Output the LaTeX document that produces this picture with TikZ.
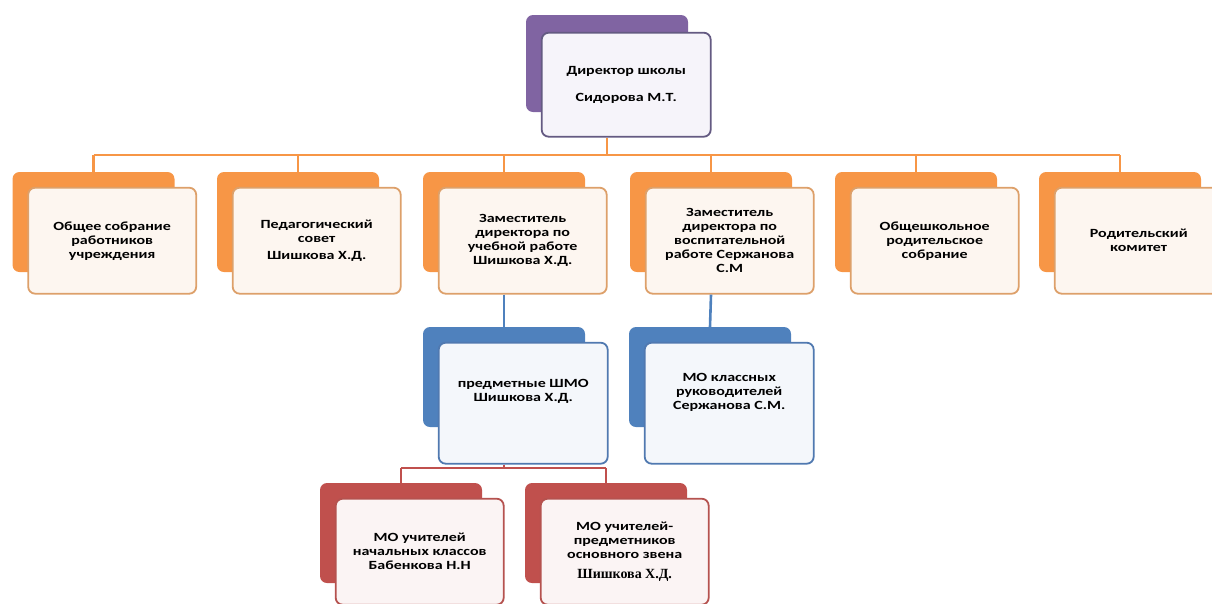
\documentclass[tikz,border=0pt]{standalone}
\usepackage{fontspec}
\setmainfont{Carlito}[FakeStretch=1.28]
\newfontfamily\timesfont{Liberation Serif}
\usetikzlibrary{positioning}

\definecolor{dirback}{HTML}{8064A2}
\definecolor{dirline}{HTML}{645A82}
\definecolor{dirfill}{HTML}{F6F4FA}
\definecolor{orback}{HTML}{F79646}
\definecolor{orline}{HTML}{DDA06A}
\definecolor{orfill}{HTML}{FDF6F0}
\definecolor{blback}{HTML}{4F81BD}
\definecolor{blline}{HTML}{5079B0}
\definecolor{blfill}{HTML}{F4F7FB}
\definecolor{rdback}{HTML}{C0504D}
\definecolor{rdline}{HTML}{B5524F}
\definecolor{rdfill}{HTML}{FBF4F4}

\tikzset{
  backbox/.style={fill=#1, rounded corners=7pt, minimum width=162pt, minimum height=100pt, inner sep=0pt},
  frontbox/.style={draw=#1, line width=1.8pt, rounded corners=7pt, minimum width=168pt, minimum height=106pt,
    align=center, inner sep=2pt, font=\bfseries\fontsize{12.5}{14}\selectfont},
  link/.style={draw=#1, line width=2.6pt},
}

\begin{document}
\begin{tikzpicture}[x=1pt,y=-1pt]
    \useasboundingbox (0,0) rectangle (1212,603);
    \clip (0,0) rectangle (1212,603);

    % director
    \node[backbox=dirback, minimum height=97pt] (db) at (607,63.5) {};
    \node[frontbox=dirline, fill=dirfill, minimum width=169pt, minimum height=104pt,
      below right=17pt and 15pt of db.north west] (df) {Директор школы\\[13pt]Сидорова М.Т.};

    % councils and deputies
    \node[backbox=orback] (b1) at (93.5,222) {};
    \node[backbox=orback] (b2) at (298,222) {};
    \node[backbox=orback] (b3) at (504,222) {};
    \node[backbox=orback] (b4) at (711,222) {};
    \node[backbox=orback] (b5) at (916,222) {};
    \node[backbox=orback] (b6) at (1120,222) {};

    \node[frontbox=orline, fill=orfill, below right=15pt and 15pt of b1.north west] (f1)
      {Общее собрание\\работников\\учреждения};
    \node[frontbox=orline, fill=orfill, below right=15pt and 15pt of b2.north west] (f2)
      {Педагогический\\совет\\[3pt]Шишкова Х.Д.};
    \node[frontbox=orline, fill=orfill, below right=15pt and 15pt of b3.north west] (f3)
      {Заместитель\\директора по\\учебной работе\\Шишкова Х.Д.};
    \node[frontbox=orline, fill=orfill, below right=15pt and 15pt of b4.north west] (f4)
      {Заместитель\\директора по\\воспитательной\\работе Сержанова\\С.М};
    \node[frontbox=orline, fill=orfill, below right=15pt and 15pt of b5.north west] (f5)
      {Общешкольное\\родительское\\собрание};
    \node[frontbox=orline, fill=orfill, below right=15pt and 15pt of b6.north west] (f6)
      {Родительский\\комитет};

    % methodical units
    \node[backbox=blback] (m1) at (504,377) {};
    \node[backbox=blback] (m2) at (710,377) {};
    \node[frontbox=blline, fill=blfill, minimum width=169pt, minimum height=121pt,
      below right=15pt and 15pt of m1.north west] (mf1) {предметные ШМО\\Шишкова Х.Д.\\[12pt]};
    \node[frontbox=blline, fill=blfill, minimum width=169pt, minimum height=121pt,
      below right=15pt and 15pt of m2.north west] (mf2) {МО классных\\руководителей\\Сержанова С.М.\\[10pt]};

    % teacher groups
    \node[backbox=rdback] (r1) at (401,533) {};
    \node[backbox=rdback] (r2) at (606,533) {};
    \node[frontbox=rdline, fill=rdfill, below right=15pt and 15pt of r1.north west] (rf1)
      {МО учителей\\начальных классов\\Бабенкова Н.Н};
    \node[frontbox=rdline, fill=rdfill, below right=15pt and 15pt of r2.north west] (rf2)
      {МО учителей-\\предметников\\основного звена\\[6pt]{\timesfont\fontsize{14}{14}\selectfont Шишкова Х.Д.}};

    % links
    \coordinate (bus) at (607,155);
    \draw[link=orback] (df.south -| db) -- (bus);
    \draw[link=orback] (bus -| b1) -- (bus -| b6);
    \foreach \i in {1,...,6}
        \draw[link=orback] (bus -| b\i) -- (b\i.north);

    \draw[link=blback] (f3.south -| b3) -- (m1.north);
    \draw[link=blback] (f4.south -| b4) -- (m2.north);

    \coordinate (rbus) at (504,468);
    \draw[link=rdback] (mf1.south -| m1) -- (rbus);
    \draw[link=rdback] (rbus -| r1) -- (rbus -| r2);
    \draw[link=rdback] (rbus -| r1) -- (r1.north);
    \draw[link=rdback] (rbus -| r2) -- (r2.north);

\end{tikzpicture}
\end{document}
